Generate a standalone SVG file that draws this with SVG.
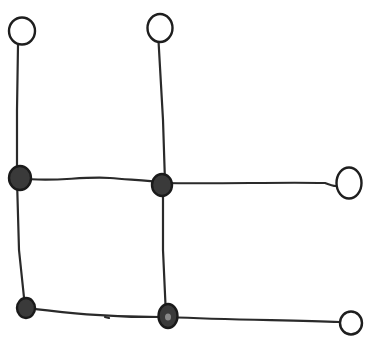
<svg xmlns="http://www.w3.org/2000/svg" width="372" height="339" viewBox="0 0 372 339">
<style>
.e{fill:none;stroke:#2a2a2a;stroke-width:2.2;stroke-linecap:round;stroke-linejoin:round}
.o{fill:#fff;stroke:#1e1e1e;stroke-width:2.4}
.f{fill:#3a3a3a;stroke:#1a1a1a;stroke-width:2.4}
</style>
<rect width="372" height="339" fill="#fff"/>
<g id="connectors">
<path class="e" d="M18,45 L17,110 L17,178"/>
<path class="e" d="M158,32 L163,120 L165,182"/>
<path class="e" d="M20,178 C50,183 80,176 110,178 C130,180 150,180 162,183"/>
<path class="e" d="M162,183 C220,184 280,182 325,183 C330,185 333,186 336,186"/>
<path class="e" d="M17,180 L19,250 L25,307"/>
<path class="e" d="M163,186 L163,250 L166,316"/>
<path class="e" d="M25,308 C60,312 100,317 160,317"/>
<path class="e" d="M168,317 C230,320 290,320 340,322"/>
<path class="e" d="M105,317 L109,318"/>
</g>
<g id="n1"><ellipse class="o" cx="22" cy="31" rx="13" ry="13.5"/></g>
<g id="n2"><ellipse class="o" cx="160" cy="28" rx="12.5" ry="14"/></g>
<g id="n3"><ellipse class="f" cx="20" cy="178" rx="11" ry="12"/></g>
<g id="n4"><ellipse class="f" cx="162" cy="185" rx="10" ry="11"/></g>
<g id="n5"><ellipse class="o" cx="349" cy="183" rx="12.5" ry="15.5"/></g>
<g id="n6"><ellipse class="f" cx="26" cy="308" rx="9" ry="10"/></g>
<g id="n7"><ellipse class="f" cx="168" cy="316" rx="9.5" ry="12"/><ellipse cx="168" cy="317" rx="3" ry="3.5" fill="#888"/></g>
<g id="n8"><ellipse class="o" cx="351" cy="323" rx="11" ry="11.5"/></g>
</svg>
